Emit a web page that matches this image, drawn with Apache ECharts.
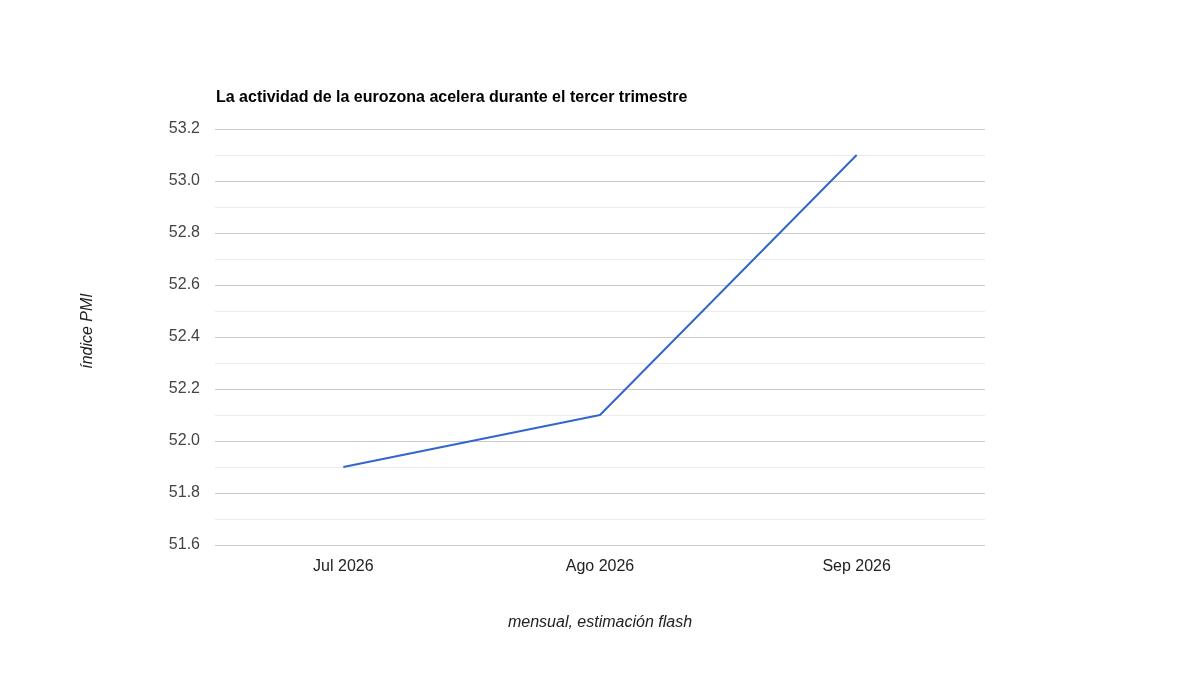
<!DOCTYPE html>
<html><head><meta charset="utf-8">
<script src="https://cdn.jsdelivr.net/npm/echarts@6/dist/echarts.min.js"></script>
<style>html,body{margin:0;padding:0;background:#fff}#c{width:1200px;height:675px}</style>
</head><body><div id="c"></div>
<script>
const categories = ['Jul 2026', 'Ago 2026', 'Sep 2026'];
const pmiValues = [51.9, 52.1, 53.1];
const titleText = 'La actividad de la eurozona acelera durante el tercer trimestre';
const yAxisTitle = 'índice PMI';
const xAxisTitle = 'mensual, estimación flash';

const chart = echarts.init(document.getElementById('c'), null, {renderer: 'canvas'});
const FONT = '"Liberation Sans", Arial, sans-serif';
chart.setOption({
  animation: false,
  backgroundColor: '#fff',
  title: {
    text: titleText, left: 211, top: 85,
    textStyle: {fontFamily: FONT, fontSize: 16, fontWeight: 'bold', color: '#000'}
  },
  grid: {left: 215, right: 215, top: 129, bottom: 130, containLabel: false},
  xAxis: {
    type: 'category', data: categories, boundaryGap: true,
    axisLine: {show: false}, axisTick: {show: false},
    axisLabel: {fontFamily: FONT, fontSize: 16, color: '#222', margin: 14},
    splitLine: {show: false}
  },
  yAxis: {
    type: 'value', min: 51.6, max: 53.2, interval: 0.2,
    axisLine: {show: false}, axisTick: {show: false},
    axisLabel: {fontFamily: FONT, fontSize: 16, color: '#444', margin: 15,
      padding: [3, 0, 0, 0], formatter: v => v.toFixed(1)},
    splitLine: {show: true, lineStyle: {color: '#cccccc', width: 1}},
    minorTick: {show: false, splitNumber: 2},
    minorSplitLine: {show: true, lineStyle: {color: '#ebebeb', width: 1}}
  },
  series: [{
    type: 'line', data: pmiValues, symbol: 'none',
    lineStyle: {color: '#3366cc', width: 2}, itemStyle: {color: '#3366cc'}
  }],
  graphic: [
    {type: 'text', left: 'center', top: 615, style: {text: xAxisTitle, font: 'italic 16px ' + FONT, fill: '#222'}},
    {type: 'text', x: 88, y: 331, rotation: Math.PI / 2,
      style: {text: yAxisTitle, font: 'italic 16px ' + FONT, fill: '#222', align: 'center', verticalAlign: 'middle'}}
  ]
});
</script></body></html>
